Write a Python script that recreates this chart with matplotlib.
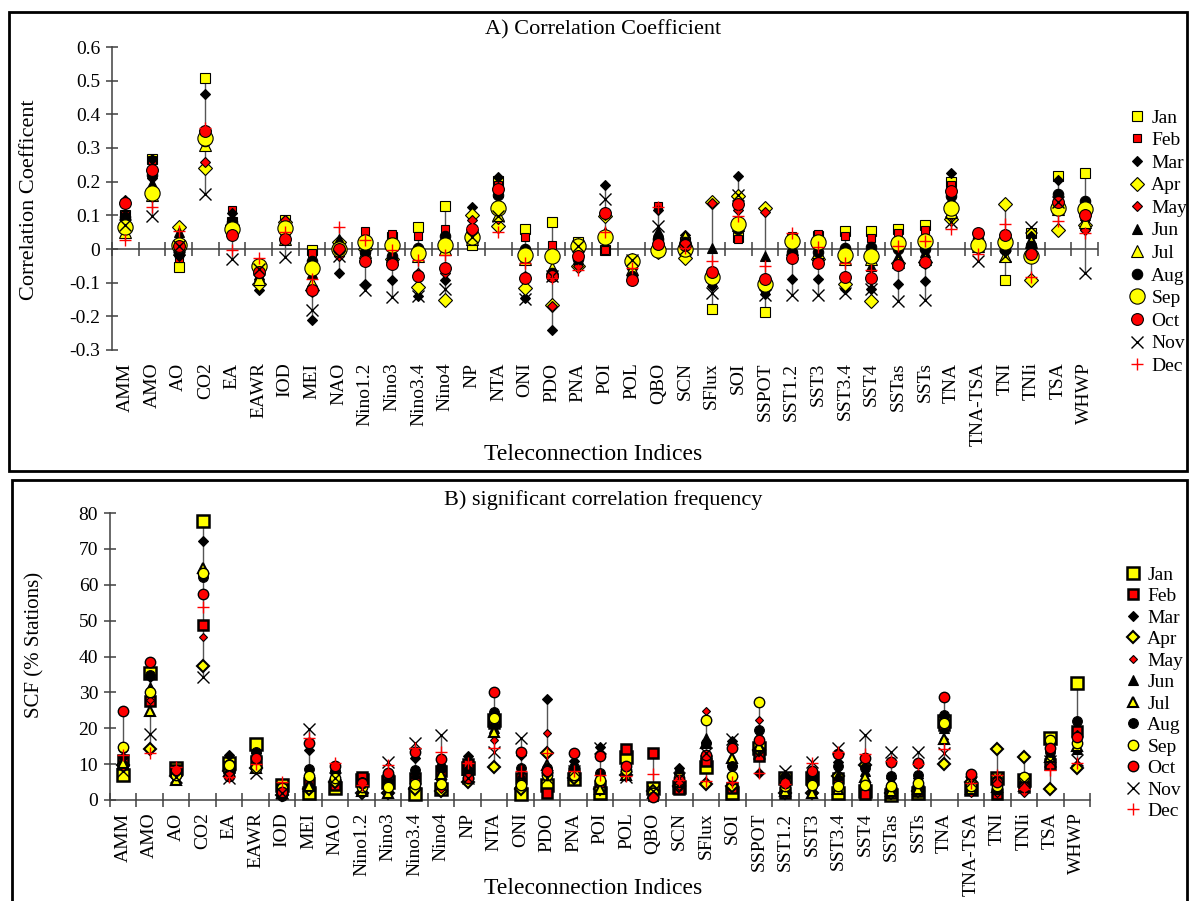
import numpy as np
import matplotlib
matplotlib.use("Agg")
import matplotlib.pyplot as plt
from matplotlib.patches import Rectangle

plt.rcParams['font.family'] = ['Liberation Serif', 'DejaVu Serif']
plt.rcParams['axes.unicode_minus'] = False

categories = ["AMM", "AMO", "AO", "CO2", "EA", "EAWR", "IOD", "MEI", "NAO", "Nino1.2",
              "Nino3", "Nino3.4", "Nino4", "NP", "NTA", "ONI", "PDO", "PNA", "POI", "POL",
              "QBO", "SCN", "SFlux", "SOI", "SSPOT", "SST1.2", "SST3", "SST3.4", "SST4",
              "SSTas", "SSTs", "TNA", "TNA-TSA", "TNI", "TNIi", "TSA", "WHWP"]
months = ["Jan", "Feb", "Mar", "Apr", "May", "Jun", "Jul", "Aug", "Sep", "Oct", "Nov", "Dec"]

# ---- Panel A: correlation coefficient per month ----
r_jan = [.10, .267, -.054, .508, .08, -.05, .087, -.004, -.005, .01, .035, .065, .129, .011, .202, .059, .08, .02, -.004, -.04, .02, .02, -.178, .035, -.188, .03, .04, .052, .052, .059, .072, .198, .01, -.093, .049, .217, .227]
r_feb = [.10, .265, -.027, .35, .115, -.09, .04, -.012, -.01, .052, .044, .04, .059, .03, .19, .037, .011, -.01, -.004, -.089, .129, 0.0, -.10, .031, -.12, .04, .045, .04, .033, .049, .057, .19, .04, 0.0, 0.0, .14, .09]
r_mar = [.145, .267, -.02, .46, .107, -.122, .08, -.212, -.071, -.103, -.093, -.14, -.093, .126, .215, -.145, -.242, 0.0, .19, -.06, .116, .042, -.11, .217, -.135, -.089, -.089, -.12, -.118, -.103, -.096, .225, .03, -.01, .04, .205, .06]
r_apr = [.07, .16, .064, .242, .07, -.105, .08, -.122, .02, 0.0, -.03, -.113, -.15, .10, .067, -.115, -.167, -.05, .097, -.032, -.01, -.027, .139, .158, .121, .02, -.03, -.104, -.155, -.043, -.04, .09, .02, .134, -.091, .057, .072]
r_may = [.08, .21, .01, .258, .09, -.09, .087, -.11, -.02, -.03, -.03, -.07, -.07, .087, .09, -.08, -.17, -.05, .10, -.08, .01, .01, .136, .116, .109, -.02, -.03, -.08, -.09, -.04, -.04, .10, 0.0, 0.0, -.02, .14, .057]
r_jun = [.05, .195, .05, .31, .09, -.08, .03, -.07, .03, 0.0, -.02, 0.0, 0.0, .04, .17, 0.0, -.06, -.03, .05, -.07, .052, .03, .003, .07, -.022, 0.0, -.01, -.03, -.05, -.02, -.01, .15, .01, -.02, .03, .15, .10]
r_jul = [.05, .16, 0.0, .31, .07, -.09, .03, -.10, .01, -.01, -.02, -.02, 0.0, .03, .10, -.03, -.056, .015, .04, -.06, 0.0, .035, -.08, .07, -.10, 0.0, -.01, -.03, -.03, -.04, -.03, .11, .01, -.02, .02, .12, .08]
r_aug = [.094, .22, -.01, .32, .08, -.07, .05, -.037, .01, -.01, -.02, .003, .04, .04, .16, 0.0, -.07, -.03, .04, -.08, .03, .02, -.09, .06, -.11, -.01, -.01, .003, .006, 0.0, 0.0, .156, .03, 0.0, .01, .163, .144]
r_sep = [.064, .166, .013, .33, .06, -.05, .061, -.057, 0.0, .02, .011, -.012, .013, .036, .123, -.017, -.022, .008, .036, -.035, -.002, 0.0, -.083, .074, -.104, .023, .02, -.017, -.022, .018, .023, .121, .013, .02, -.022, .123, .118]
r_oct = [.138, .235, .01, .351, .043, -.068, .031, -.122, 0.0, -.035, -.046, -.081, -.056, .059, .179, -.086, -.08, -.022, .107, -.093, .016, .013, -.068, .133, -.089, -.027, -.041, -.083, -.086, -.049, -.039, .173, .049, .042, -.014, .141, .10]
r_nov = [.07, .097, .01, .164, -.03, -.06, -.025, -.18, -.02, -.122, -.143, -.14, -.118, .036, .097, -.148, -.08, .01, .149, -.032, .067, 0.0, -.13, .16, -.138, -.138, -.138, -.132, -.12, -.153, -.15, .08, -.035, -.02, .064, .14, -.071]
r_dec = [.028, .126, .052, .358, -.004, -.027, .05, -.088, .065, .028, -.004, -.034, -.019, .062, .05, -.041, -.086, -.061, .05, -.056, .126, .003, -.037, .097, -.051, .049, .006, -.041, -.061, .01, .023, .06, -.015, .074, -.083, .082, .049]

# ---- Panel B: significant correlation frequency (% stations) per month ----
s_jan = [7.0, 35.3, 8.8, 77.9, 10.2, 15.6, 4.2, 2.0, 3.3, 5.6, 5.0, 1.7, 3.0, 9.0, 22.3, 1.7, 4.2, 5.8, 1.9, 12.1, 3.3, 3.5, 9.3, 1.9, 14.4, 6.0, 6.0, 2.0, 2.5, 1.5, 2.0, 22.1, 3.0, 6.0, 5.5, 17.2, 32.7]
s_feb = [11.2, 27.7, 8.4, 48.8, 9.3, 11.0, 3.0, 4.7, 4.2, 6.3, 5.6, 6.0, 8.0, 10.0, 21.4, 6.0, 2.0, 7.6, 4.0, 14.1, 13.2, 3.0, 11.0, 3.4, 12.4, 2.0, 5.5, 6.0, 1.6, 2.0, 2.5, 21.0, 3.0, 1.7, 3.5, 10.0, 19.1]
s_mar = [12.1, 34.4, 8.0, 72.3, 12.6, 13.0, 3.5, 13.8, 8.0, 5.0, 5.0, 11.6, 8.5, 12.3, 21.0, 12.6, 28.1, 11.0, 14.7, 8.0, 1.0, 8.8, 4.5, 16.5, 7.4, 6.0, 5.0, 10.5, 9.5, 6.0, 6.0, 23.0, 6.0, 6.0, 5.0, 14.0, 18.0]
s_apr = [9.8, 14.1, 6.7, 37.4, 8.0, 9.0, 1.5, 3.0, 5.0, 2.0, 2.0, 3.0, 2.5, 5.1, 9.1, 3.0, 13.2, 6.0, 3.0, 7.0, 2.5, 4.0, 4.5, 4.0, 14.0, 2.0, 2.0, 6.7, 9.8, 2.0, 2.5, 10.0, 5.0, 14.2, 12.1, 3.0, 8.8]
s_may = [9.0, 28.0, 8.0, 45.4, 7.0, 10.0, 2.0, 4.0, 8.6, 3.0, 4.0, 5.0, 3.0, 6.0, 16.6, 4.0, 18.8, 7.0, 4.0, 7.0, 0.7, 4.0, 24.9, 5.0, 22.3, 2.0, 3.0, 4.0, 4.0, 3.0, 3.0, 17.0, 2.0, 2.0, 1.9, 14.0, 16.0]
s_jun = [10.7, 31.6, 6.0, 64.2, 9.0, 10.0, 3.0, 5.0, 7.0, 3.0, 3.0, 7.5, 7.0, 9.0, 20.0, 7.0, 8.0, 9.0, 6.0, 8.0, 1.0, 5.0, 17.2, 11.0, 18.0, 3.0, 3.0, 7.0, 8.0, 5.5, 6.0, 20.0, 3.0, 3.0, 4.0, 13.0, 14.2]
s_jul = [10.4, 24.8, 5.6, 64.8, 8.0, 9.0, 2.0, 4.0, 7.0, 2.5, 2.0, 5.0, 7.3, 8.4, 19.0, 5.0, 9.8, 7.0, 3.0, 7.0, 2.0, 5.0, 16.0, 11.6, 15.0, 2.5, 2.0, 3.0, 6.3, 2.5, 3.0, 16.9, 3.0, 3.7, 4.0, 12.0, 15.0]
s_aug = [14.4, 34.9, 7.0, 62.1, 10.0, 13.5, 1.0, 8.6, 8.0, 5.0, 5.0, 8.4, 9.3, 8.0, 24.4, 8.8, 9.0, 9.3, 7.4, 9.0, 1.5, 7.5, 16.0, 9.5, 19.5, 6.5, 6.0, 9.5, 8.8, 6.7, 7.0, 23.7, 4.0, 5.0, 4.5, 13.5, 21.9]
s_sep = [14.7, 30.2, 7.0, 63.3, 9.8, 8.8, 3.3, 6.7, 6.0, 3.5, 3.5, 4.5, 4.5, 6.0, 22.8, 4.2, 7.0, 7.0, 5.6, 8.5, 2.0, 6.0, 22.3, 6.7, 27.3, 4.0, 4.2, 3.9, 4.2, 4.0, 4.7, 21.6, 4.0, 4.0, 6.5, 16.6, 16.0]
s_oct = [24.7, 38.4, 8.4, 57.5, 6.7, 11.8, 2.3, 16.0, 9.5, 4.7, 7.6, 13.5, 11.3, 6.0, 30.0, 13.5, 8.2, 13.0, 12.4, 9.5, 0.9, 5.6, 12.6, 14.6, 16.7, 4.8, 8.1, 12.7, 11.6, 10.5, 10.2, 28.7, 7.2, 5.1, 3.7, 14.4, 17.7]
s_nov = [8.0, 18.4, 6.5, 34.2, 6.0, 7.4, 2.0, 19.7, 6.0, 3.0, 10.7, 15.8, 18.1, 6.0, 13.5, 17.2, 6.0, 8.0, 14.5, 6.5, 2.5, 6.0, 13.0, 16.9, 13.0, 8.1, 10.5, 14.4, 18.1, 13.3, 13.3, 13.0, 5.0, 6.0, 5.0, 11.0, 11.2]
s_dec = [12.6, 13.0, 9.3, 53.7, 6.3, 10.0, 5.1, 17.2, 10.2, 4.2, 9.8, 14.4, 13.5, 10.4, 14.4, 8.0, 13.2, 8.0, 7.0, 6.7, 7.3, 5.5, 5.4, 5.0, 7.4, 4.5, 10.2, 13.5, 12.8, 11.0, 10.0, 14.1, 4.7, 7.0, 3.0, 8.4, 10.2]

r_series = [r_jan, r_feb, r_mar, r_apr, r_may, r_jun, r_jul, r_aug, r_sep, r_oct, r_nov, r_dec]
s_series = [s_jan, s_feb, s_mar, s_apr, s_may, s_jun, s_jul, s_aug, s_sep, s_oct, s_nov, s_dec]

YEL, RED, BLK = "#FFFF00", "#FF0000", "#000000"
# marker, face colour, size A, edge width A, size B, edge width B
styles = [
    ("s", YEL, 7.5, 0.8, 8.0, 1.8),
    ("s", RED, 5.5, 0.8, 7.5, 1.8),
    ("D", BLK, 5.0, 0.8, 5.5, 0.8),
    ("D", YEL, 7.5, 0.8, 6.5, 1.5),
    ("D", RED, 5.5, 0.8, 4.5, 0.8),
    ("^", BLK, 7.0, 0.8, 6.5, 0.8),
    ("^", YEL, 9.0, 0.8, 7.0, 1.5),
    ("o", BLK, 7.5, 0.8, 7.0, 0.8),
    ("o", YEL, 11.0, 0.8, 7.5, 1.0),
    ("o", RED, 8.5, 0.8, 7.5, 1.0),
    ("x", BLK, 8.0, 1.0, 8.0, 1.0),
    ("+", RED, 9.0, 1.0, 8.0, 1.0),
]

W, H = 1190, 901
def fx(px):
    return px / W
def fy(py):
    return 1 - py / H

AX_COL = "#404040"
n = len(categories)
xpos = np.arange(n) + 0.5

fig = plt.figure(figsize=(W / 100, H / 100), dpi=100)

# panel frames
fig.patches.append(Rectangle((fx(9), fy(471)), fx(1187) - fx(9), fy(12) - fy(471),
                             transform=fig.transFigure, fill=False, lw=2.0, ec="black"))
fig.patches.append(Rectangle((fx(12), fy(910)), fx(1187) - fx(12), fy(480) - fy(910),
                             transform=fig.transFigure, fill=False, lw=2.0, ec="black"))


def draw_panel(ax, series, which):
    arr = np.array(series)
    ax.vlines(xpos, arr.min(axis=0), arr.max(axis=0), color="#555555", lw=1.0, zorder=1)
    handles = []
    for m, vals, st in zip(months, series, styles):
        mk, col, msA, mewA, msB, mewB = st
        ms, mew = (msA, mewA) if which == "A" else (msB, mewB)
        if mk in ("x", "+"):
            h, = ax.plot(xpos, vals, ls="none", marker=mk, ms=ms, mew=mew, color=col,
                         label=m, zorder=3, clip_on=False)
        else:
            h, = ax.plot(xpos, vals, ls="none", marker=mk, ms=ms, mew=mew, mfc=col,
                         mec="black", label=m, zorder=3, clip_on=False)
        handles.append(h)
    ax.set_xlim(0, n)
    ax.set_xticks(xpos, categories, rotation=90)
    ax.tick_params(axis="x", which="major", length=0, pad=9, labelsize=14, direction="out")
    ax.tick_params(axis="y", direction="inout", length=9, width=1.1, color=AX_COL,
                   labelsize=14, pad=4)
    for s in ("top", "right"):
        ax.spines[s].set_visible(False)
    ax.spines["left"].set_color(AX_COL)
    ax.spines["left"].set_linewidth(1.1)
    ax.patch.set_alpha(0)
    return handles


# ---------- Panel A ----------
axA = fig.add_axes([fx(112), fy(350), (1098 - 112) / W, (350 - 47) / H])
hA = draw_panel(axA, r_series, "A")
axA.set_ylim(-0.3, 0.6)
yt = np.round(np.arange(-0.3, 0.61, 0.1), 1)
axA.set_yticks(yt, ["0" if v == 0 else f"{v:.1f}" for v in yt])
axA.spines["bottom"].set_visible(False)
axA.axhline(0, color=AX_COL, lw=1.1, zorder=0.5)
bnd = np.arange(n + 1)
axA.plot(bnd, np.zeros(n + 1), ls="none", marker="|", ms=10, mew=1.1, color=AX_COL,
         zorder=0.6, clip_on=False)

fig.text(fx(603), fy(30), "A) Correlation Coefficient", ha="center", va="center", fontsize=16)
fig.text(fx(593), fy(455), "Teleconnection Indices", ha="center", va="center", fontsize=17)
fig.text(fx(30), fy(200), "Correlation Coefficent", ha="center", va="center",
         rotation=90, fontsize=16)

fig.legend(handles=hA, labels=months, loc="upper left",
           bbox_to_anchor=(fx(1127), fy(109)), bbox_transform=fig.transFigure,
           frameon=False, fontsize=14, handlelength=1.0, handletextpad=0.25,
           labelspacing=0.255, borderpad=0, borderaxespad=0, numpoints=1)

# ---------- Panel B ----------
axB = fig.add_axes([fx(110), fy(800), 980 / W, (800 - 513) / H])
hB = draw_panel(axB, s_series, "B")
axB.set_ylim(0, 80)
axB.set_yticks(np.arange(0, 81, 10))
axB.spines["bottom"].set_color(AX_COL)
axB.spines["bottom"].set_linewidth(1.1)
axB.set_xticks(bnd, minor=True)
axB.tick_params(axis="x", which="minor", direction="inout", length=10, width=1.1,
                color=AX_COL)

fig.text(fx(603), fy(500), "B) significant correlation frequency", ha="center",
         va="center", fontsize=16)
fig.text(fx(593), fy(889), "Teleconnection Indices", ha="center", va="center", fontsize=17)
fig.text(fx(35), fy(645), "SCF (% Stations)", ha="center", va="center",
         rotation=90, fontsize=15)

fig.legend(handles=hB, labels=months, loc="upper left",
           bbox_to_anchor=(fx(1123), fy(566)), bbox_transform=fig.transFigure,
           frameon=False, fontsize=14, handlelength=1.0, handletextpad=0.25,
           labelspacing=0.2, borderpad=0, borderaxespad=0, numpoints=1)

fig.savefig("out.png", dpi=100)
